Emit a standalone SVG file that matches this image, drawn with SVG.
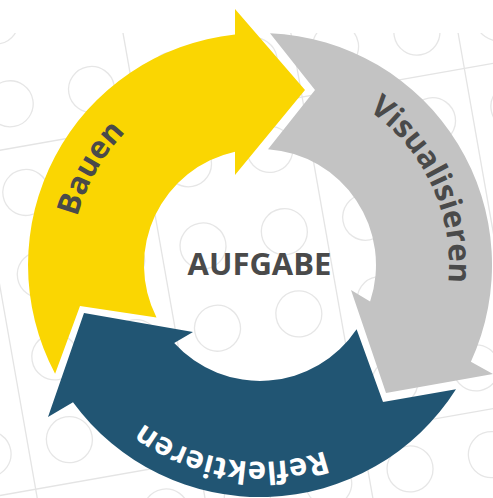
<svg xmlns="http://www.w3.org/2000/svg" width="493" height="498" viewBox="0 0 493 498">
  <style>
    .stud { fill: none; stroke: #e6e6e6; stroke-width: 1.3; }
    .seam { fill: none; stroke: #e4e4e4; stroke-width: 1.3; }
    .lbl { font-family: "Open Sans", "Liberation Sans", sans-serif; font-weight: 700; font-size: 31px; }
    .dark { fill: #4a4a4a; }
    .light { fill: #ffffff; }
  </style>
  <defs>
    <clipPath id="plateClip"><rect x="0" y="33" width="493" height="465"/></clipPath>
    <circle id="s" r="23"/>
    <path id="pBauen" d="M139.3,410.4 A189,189 0 0 1 323.7,87.1"/>
    <path id="pVis" d="M211.7,82.3 A189,189 0 0 1 367.9,420.2"/>
    <path id="pRef" d="M446.7,327.8 A197,197 0 0 1 63.1,269.8"/>
  </defs>
  <rect width="493" height="498" fill="#ffffff"/>
  <g id="baseplate" clip-path="url(#plateClip)">
    <g transform="rotate(-10)">
      <g class="seam">
        <line x1="-49.8" y1="-100" x2="-49.8" y2="700"/>
        <line x1="115.4" y1="-100" x2="115.4" y2="700"/>
        <line x1="280.7" y1="-100" x2="280.7" y2="700"/>
        <line x1="445.4" y1="-100" x2="445.4" y2="700"/>
        <line x1="-150" y1="148" x2="700" y2="148"/>
        <line x1="-150" y1="488" x2="700" y2="488"/>
      </g>
      <g class="stud">
        <use href="#s" x="-90.6" y="20"/><use href="#s" x="-8" y="20"/><use href="#s" x="74.6" y="20"/><use href="#s" x="157.2" y="20"/><use href="#s" x="239.8" y="20"/><use href="#s" x="322.4" y="20"/><use href="#s" x="405" y="20"/><use href="#s" x="487.6" y="20"/><use href="#s" x="570.2" y="20"/>
        <use href="#s" x="-90.6" y="104"/><use href="#s" x="-8" y="104"/><use href="#s" x="74.6" y="104"/><use href="#s" x="157.2" y="104"/><use href="#s" x="239.8" y="104"/><use href="#s" x="322.4" y="104"/><use href="#s" x="405" y="104"/><use href="#s" x="487.6" y="104"/><use href="#s" x="570.2" y="104"/>
        <use href="#s" x="-90.6" y="194"/><use href="#s" x="-8" y="194"/><use href="#s" x="74.6" y="194"/><use href="#s" x="157.2" y="194"/><use href="#s" x="239.8" y="194"/><use href="#s" x="322.4" y="194"/><use href="#s" x="405" y="194"/><use href="#s" x="487.6" y="194"/><use href="#s" x="570.2" y="194"/>
        <use href="#s" x="-90.6" y="277.5"/><use href="#s" x="-8" y="277.5"/><use href="#s" x="74.6" y="277.5"/><use href="#s" x="157.2" y="277.5"/><use href="#s" x="239.8" y="277.5"/><use href="#s" x="322.4" y="277.5"/><use href="#s" x="405" y="277.5"/><use href="#s" x="487.6" y="277.5"/><use href="#s" x="570.2" y="277.5"/>
        <use href="#s" x="-90.6" y="361"/><use href="#s" x="-8" y="361"/><use href="#s" x="74.6" y="361"/><use href="#s" x="157.2" y="361"/><use href="#s" x="239.8" y="361"/><use href="#s" x="322.4" y="361"/><use href="#s" x="405" y="361"/><use href="#s" x="487.6" y="361"/><use href="#s" x="570.2" y="361"/>
        <use href="#s" x="-90.6" y="445"/><use href="#s" x="-8" y="445"/><use href="#s" x="74.6" y="445"/><use href="#s" x="157.2" y="445"/><use href="#s" x="239.8" y="445"/><use href="#s" x="322.4" y="445"/><use href="#s" x="405" y="445"/><use href="#s" x="487.6" y="445"/><use href="#s" x="570.2" y="445"/>
        <use href="#s" x="-90.6" y="533"/><use href="#s" x="-8" y="533"/><use href="#s" x="74.6" y="533"/><use href="#s" x="157.2" y="533"/><use href="#s" x="239.8" y="533"/><use href="#s" x="322.4" y="533"/><use href="#s" x="405" y="533"/><use href="#s" x="487.6" y="533"/><use href="#s" x="570.2" y="533"/>
      </g>
    </g>
  </g>
  <g id="connectors">
    <g id="bauen">
      <path fill="#fad602" d="M55.1,373.8 A232,232 0 0 1 235,34.4 L235,9 L305,90 L235,175 L235,151.7 A116,116 0 0 0 156.5,317.4 L80,306 Z"/>
      <text class="lbl dark"><textPath href="#pBauen" startOffset="50%" text-anchor="middle">Bauen</textPath></text>
    </g>
    <g id="visualisieren">
      <path fill="#c3c3c3" d="M270,33.2 A232,232 0 0 1 470.9,361.7 L493,374 L386,393 L351,290 L370.1,301.5 A116,116 0 0 0 268,149.3 L315,90 Z"/>
      <text class="lbl dark"><textPath href="#pVis" startOffset="50%" text-anchor="middle">Visualisieren</textPath></text>
    </g>
    <g id="reflektieren">
      <path fill="#215573" d="M456,389.2 A232,232 0 0 1 73,402.3 L48,417 L84,313 L193,332 L174.2,343 A116,116 0 0 0 356.6,329.2 L383,402 Z"/>
      <text class="lbl light"><textPath href="#pRef" startOffset="50%" text-anchor="middle">Reflektieren</textPath></text>
    </g>
  </g>
  <g id="aufgabe">
    <text class="lbl dark" x="259.5" y="275" text-anchor="middle">AUFGABE</text>
  </g>
</svg>
